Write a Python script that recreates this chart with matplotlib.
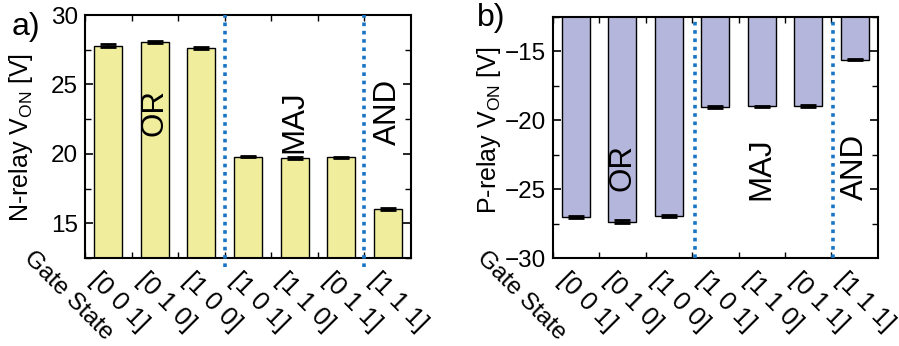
import numpy as np
import matplotlib
matplotlib.use("Agg")
import matplotlib.pyplot as plt
from matplotlib.ticker import MultipleLocator
from matplotlib.transforms import blended_transform_factory

plt.rcParams["font.family"] = ["Liberation Sans", "DejaVu Sans"]
plt.rcParams["mathtext.fontset"] = "custom"
plt.rcParams["mathtext.rm"] = "Liberation Sans"

# Gate input states (shared by both panels)
gate_states = ["[0 0 1]", "[0 1 0]", "[1 0 0]", "[1 0 1]", "[1 1 0]", "[0 1 1]", "[1 1 1]"]

# N-relay pull-in voltages and uncertainties
n_von = [27.8, 28.05, 27.6, 19.8, 19.7, 19.75, 16.05]
n_err = [0.08, 0.10, 0.08, 0.06, 0.08, 0.06, 0.06]

# P-relay pull-in voltages and uncertainties
p_von = [-27.0, -27.35, -26.95, -19.05, -19.0, -18.97, -15.6]
p_err = [0.06, 0.10, 0.08, 0.06, 0.06, 0.06, 0.06]

# Logic function groups: (name, bar index, label height) per panel
groups = ["OR", "MAJ", "AND"]
group_bar = [1, 4, 6]
n_label_y = [23.0, 22.3, 23.0]
p_label_y = [-23.4, -23.5, -23.4]
n_dividers = [3.5, 6.5]
p_dividers = [3.57, 6.53]

yellow = "#F0EE9C"
lavender = "#B4B6DC"
divider_color = "#1A74C4"

fig = plt.figure(figsize=(8.99, 3.46), dpi=100)
ax_a = fig.add_axes([0.0946, 0.2543, 0.3626, 0.7023])
ax_b = fig.add_axes([0.6148, 0.2535, 0.3618, 0.6982])

x = np.arange(1, len(gate_states) + 1)


def style_panel(ax, values, errs, color, ylim, ylabel, dividers, label_y,
                line_bottom, gate_x):
    ax.bar(x, values, width=0.6, color=color, edgecolor="black", linewidth=1.0, zorder=2)
    ax.errorbar(x, values, yerr=errs, fmt="none", ecolor="black", elinewidth=1.5,
                capsize=5.5, capthick=2.0, zorder=3)
    ax.set_xlim(0.5, len(gate_states) + 0.5)
    ax.set_ylim(*ylim)
    ax.set_xticks(x - 0.5)
    ax.set_xticklabels(gate_states, rotation=-45, ha="left", va="top", fontsize=18.5)
    ax.yaxis.set_major_locator(MultipleLocator(5))
    ax.yaxis.set_minor_locator(MultipleLocator(2.5))
    ax.tick_params(axis="both", which="both", direction="in", top=True, right=True)
    ax.tick_params(axis="y", which="major", length=6, width=1.2, labelsize=17.5, pad=5)
    ax.tick_params(axis="y", which="minor", length=4, width=1.0)
    ax.tick_params(axis="x", which="major", length=4, width=1.0, pad=7)
    for s in ax.spines.values():
        s.set_linewidth(1.5)
    ax.set_ylabel(ylabel, fontsize=18)
    trans = blended_transform_factory(ax.transData, ax.transAxes)
    for d in dividers:
        ax.plot([d, d], [line_bottom, 1.0], transform=trans, color=divider_color,
                linestyle=(0, (1, 1.3)), linewidth=2.6, clip_on=False, zorder=4)
    for name, idx, yy in zip(groups, group_bar, label_y):
        ax.text(x[idx], yy, name, rotation=90, ha="center", va="center",
                fontsize=22.5, zorder=5)
    ax.text(gate_x, 0.045, "Gate State", transform=ax.transAxes, rotation=-45,
            ha="left", va="top", fontsize=17.5, rotation_mode="default")


style_panel(ax_a, n_von, n_err, yellow, (12.5, 30), r"N-relay V$_\mathregular{ON}$ [V]",
            n_dividers, n_label_y, -0.035, -0.2)
style_panel(ax_b, p_von, p_err, lavender, (-30, -12.5), r"P-relay V$_\mathregular{ON}$ [V]",
            p_dividers, p_label_y, 0.0, -0.248)

ax_a.yaxis.set_label_coords(-0.153, 0.498)
ax_b.yaxis.set_label_coords(-0.153, 0.53)

fig.text(12 / 899, 1 - 27 / 346, "a)", fontsize=23, ha="left", va="center")
fig.text(477 / 899, 1 - 18 / 346, "b)", fontsize=23, ha="left", va="center")

fig.savefig("out.png", dpi=100)
